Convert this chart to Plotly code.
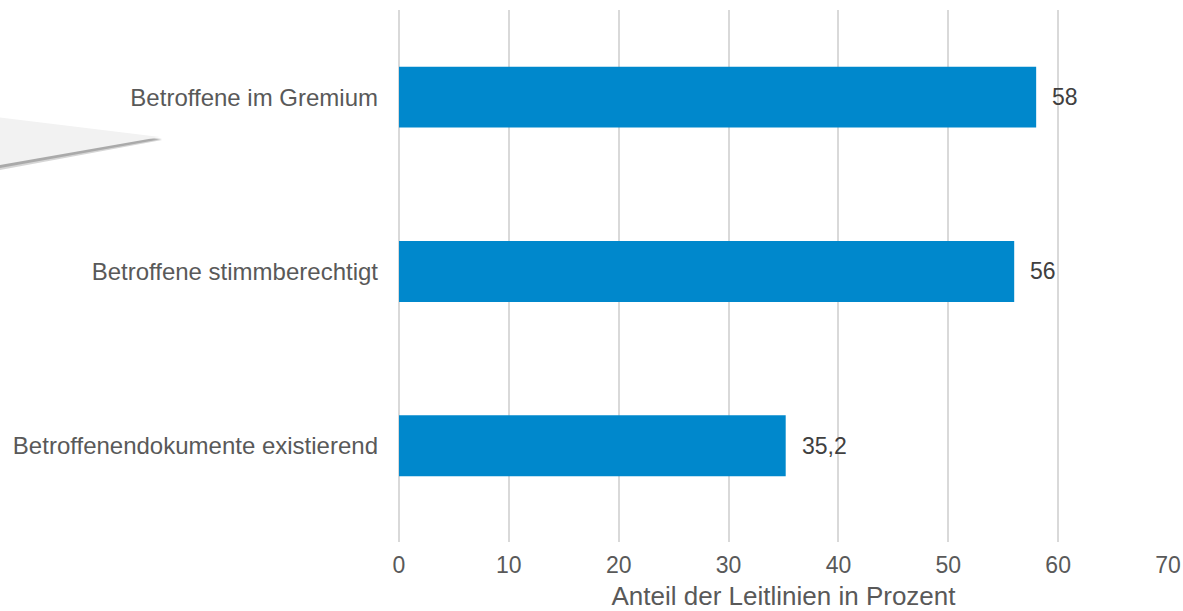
import plotly.graph_objects as go

# Kategorien (von oben nach unten) und Anteile in Prozent
kategorien = [
    "Betroffene im Gremium",
    "Betroffene stimmberechtigt",
    "Betroffenendokumente existierend",
]
anteile = [58, 56, 35.2]
wert_labels = ["58", "56", "35,2"]
x_ticks = [0, 10, 20, 30, 40, 50, 60, 70]

BAR_COLOR = "#0088CC"
TEXT_GREY = "#595959"
GRID_GREY = "#D9D9D9"

fig = go.Figure()
fig.add_trace(go.Bar(
    x=anteile,
    y=kategorien,
    orientation="h",
    width=0.35,
    marker=dict(color=BAR_COLOR, line=dict(width=0)),
    hoverinfo="skip",
))

# Wertbeschriftungen rechts neben den Balken
for kat, wert, txt in zip(kategorien, anteile, wert_labels):
    fig.add_annotation(
        x=wert, y=kat, text=txt, showarrow=False,
        xanchor="left", yanchor="middle", xshift=14,
        font=dict(family="Liberation Sans, Arial, sans-serif", size=23, color="#404040"),
    )

# Grauer Zeiger (Callout-Spitze) am linken Rand mit leichtem Schatten
L, T, W, H = 399, 10, 769, 532


def px_to_paper(px, py):
    return (px - L) / W, (T + H - py) / H


def path(points):
    pts = [px_to_paper(*p) for p in points]
    return "M " + " L ".join(f"{x:.4f},{y:.4f}" for x, y in pts) + " Z"


fig.add_shape(type="path", xref="paper", yref="paper",
              path=path([(-5, 122), (162, 140), (-5, 171)]),
              fillcolor="rgba(90,90,90,0.25)", line=dict(width=0), layer="above")
fig.add_shape(type="path", xref="paper", yref="paper",
              path=path([(-5, 120), (162, 139), (-5, 169)]),
              fillcolor="rgba(90,90,90,0.35)", line=dict(width=0), layer="above")
fig.add_shape(type="path", xref="paper", yref="paper",
              path=path([(-5, 117), (160, 137), (-5, 166)]),
              fillcolor="#F2F2F2", line=dict(width=0), layer="above")

fig.update_layout(
    width=1183, height=611,
    margin=dict(l=L, r=1183 - L - W, t=T, b=611 - T - H),
    paper_bgcolor="white", plot_bgcolor="white",
    showlegend=False,
    bargap=0.65,
    font=dict(family="Liberation Sans, Arial, sans-serif", color=TEXT_GREY),
    xaxis=dict(
        range=[0, 70], tickvals=x_ticks, ticktext=[str(v) for v in x_ticks],
        showgrid=True, gridcolor=GRID_GREY, gridwidth=1.5,
        zeroline=True, zerolinecolor=GRID_GREY, zerolinewidth=1.5,
        showline=False, ticks="", ticklabelstandoff=7,
        tickfont=dict(size=23, color=TEXT_GREY),
        title=dict(text="Anteil der Leitlinien in Prozent",
                   font=dict(size=26, color=TEXT_GREY), standoff=23),
        automargin=False, fixedrange=True,
    ),
    yaxis=dict(
        type="category", categoryorder="array", categoryarray=kategorien,
        range=[2.553, -0.5],
        showgrid=False, zeroline=False, showline=False, ticks="",
        ticklabelstandoff=20,
        tickfont=dict(size=24, color=TEXT_GREY),
        automargin=False, fixedrange=True,
    ),
)

fig.write_html("out.html", config={"displayModeBar": False})
